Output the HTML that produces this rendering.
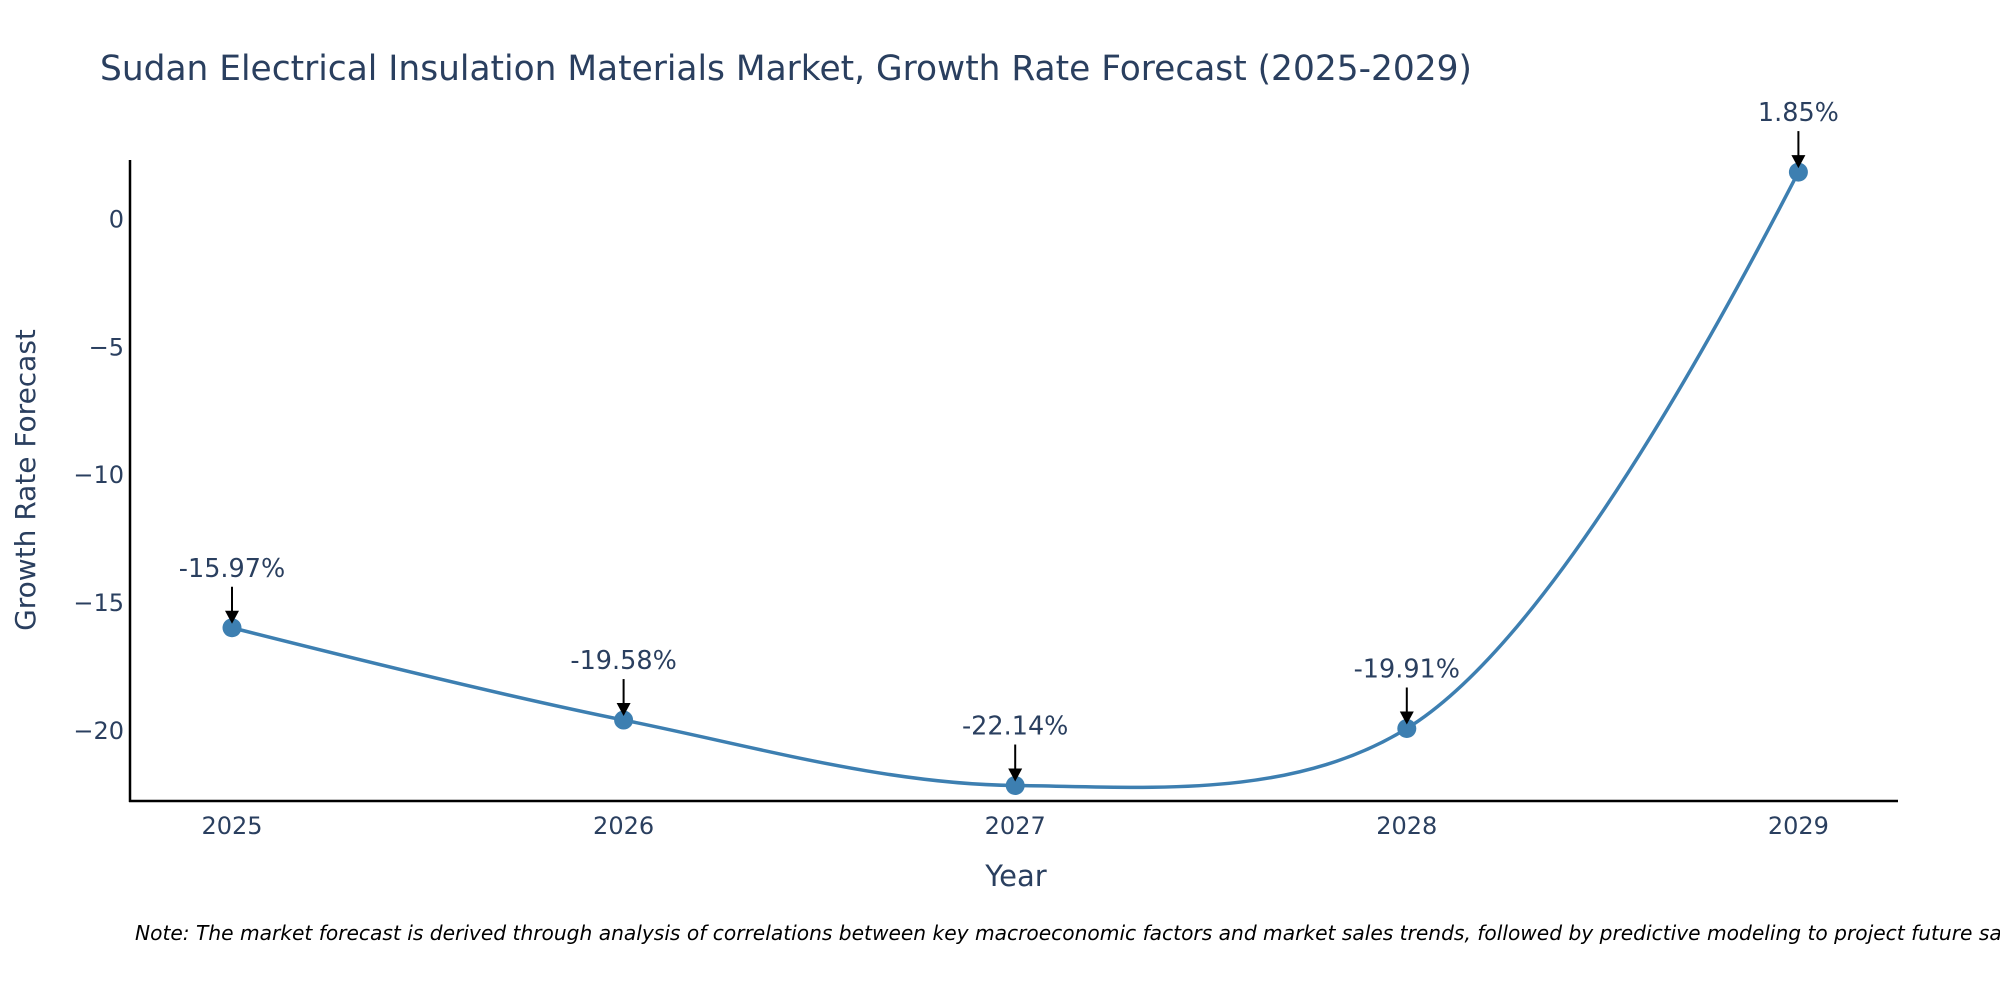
<!DOCTYPE html>
<html><head><meta charset="utf-8"><style>
html,body{margin:0;padding:0;background:#fff;}
svg{display:block;font-family:"DejaVu Sans","Liberation Sans",sans-serif;}
</style></head><body>
<svg id="chart" width="2000" height="1000" viewBox="0 0 2000 1000">
<text x="100" y="80" font-size="34.4" fill="#2a3f5f">Sudan Electrical Insulation Materials Market, Growth Rate Forecast (2025-2029)</text>
<g id="yticks"></g>
<g id="xticks"></g>
<line x1="130" y1="160" x2="130" y2="802" stroke="#000" stroke-width="2.5"/>
<line x1="129" y1="801" x2="1898" y2="801" stroke="#000" stroke-width="2.5"/>
<path id="line" fill="none" stroke="#3d7fb1" stroke-width="3.5"/>
<g id="points"></g>
<g id="annots"></g>
<text x="1016" y="886" font-size="29" fill="#2a3f5f" text-anchor="middle">Year</text>
<text transform="translate(35,480) rotate(-90)" font-size="28" fill="#2a3f5f" text-anchor="middle">Growth Rate Forecast</text>
<text x="135" y="940" font-size="20.2" font-style="italic" fill="#000">Note: The market forecast is derived through analysis of correlations between key macroeconomic factors and market sales trends, followed by predictive modeling to project future sales.</text>
</svg>
<script>
const years = [2025, 2026, 2027, 2028, 2029];
const values = [-15.97, -19.58, -22.14, -19.91, 1.85];
const labels = ["-15.97%", "-19.58%", "-22.14%", "-19.91%", "1.85%"];
const yTickValues = [0, -5, -10, -15, -20];
const yTickLabels = ["0", "\u22125", "\u221210", "\u221215", "\u221220"];

const NS = "http://www.w3.org/2000/svg";
function xs(v){ return 232 + (v - 2025) * 391.6; }
function ys(v){ return 219.4 - v * 25.57; }
function mk(tag, attrs, parent){ const e = document.createElementNS(NS, tag); for (const k in attrs) e.setAttribute(k, attrs[k]); parent.appendChild(e); return e; }

const yt = document.getElementById('yticks');
yTickValues.forEach((v, i) => {
  const t = mk('text', {x: 124, y: ys(v) + 8, 'font-size': 24, fill: '#2a3f5f', 'text-anchor': 'end'}, yt);
  
  
  t.textContent = yTickLabels[i];
});
const xt = document.getElementById('xticks');
years.forEach(y => {
  const t = mk('text', {x: xs(y), y: 834, 'font-size': 24, fill: '#2a3f5f', 'text-anchor': 'middle'}, xt);
  
  
  t.textContent = String(y);
});

const pts = years.map((y, i) => [xs(y), ys(values[i])]);
function tangent(p0, p1, p2, s){
  const d1x=p0[0]-p1[0], d1y=p0[1]-p1[1], d2x=p2[0]-p1[0], d2y=p2[1]-p1[1];
  const d1a=Math.pow(d1x*d1x+d1y*d1y,0.25), d2a=Math.pow(d2x*d2x+d2y*d2y,0.25);
  const nx=(d2a*d2a*d1x-d1a*d1a*d2x)*s, ny=(d2a*d2a*d1y-d1a*d1a*d2y)*s;
  const den1=3*d2a*(d1a+d2a), den2=3*d1a*(d1a+d2a);
  return [[p1[0]+nx/den1, p1[1]+ny/den1],[p1[0]-nx/den2, p1[1]-ny/den2]];
}
const tg = [];
for (let i = 1; i < pts.length - 1; i++) tg.push(tangent(pts[i-1], pts[i], pts[i+1], 1));
let d = `M${pts[0]} Q${tg[0][0]} ${pts[1]}`;
for (let i = 2; i < pts.length - 1; i++) d += ` C${tg[i-2][1]} ${tg[i-1][0]} ${pts[i]}`;
d += ` Q${tg[tg.length-1][1]} ${pts[pts.length-1]}`;
document.getElementById('line').setAttribute('d', d);

const pg = document.getElementById('points'), ag = document.getElementById('annots');
pts.forEach((p, i) => {
  const c = mk('circle', {cx: p[0], cy: p[1], r: 9.5, fill: '#3d7fb1'}, pg);
  
  
  const l = mk('line', {x1: p[0], y1: p[1] - 41, x2: p[0], y2: p[1] - 14, stroke: '#000', 'stroke-width': 2}, ag);
  
  
  const h = mk('polygon', {points: `${p[0]-7},${p[1]-17} ${p[0]+7},${p[1]-17} ${p[0]},${p[1]-4}`, fill: '#000'}, ag);
  
  
  const t = mk('text', {x: p[0], y: p[1] - 51, 'font-size': 25.5, fill: '#2a3f5f', 'text-anchor': 'middle'}, ag);
  
  
  t.textContent = labels[i];
});
</script>
</body></html>
